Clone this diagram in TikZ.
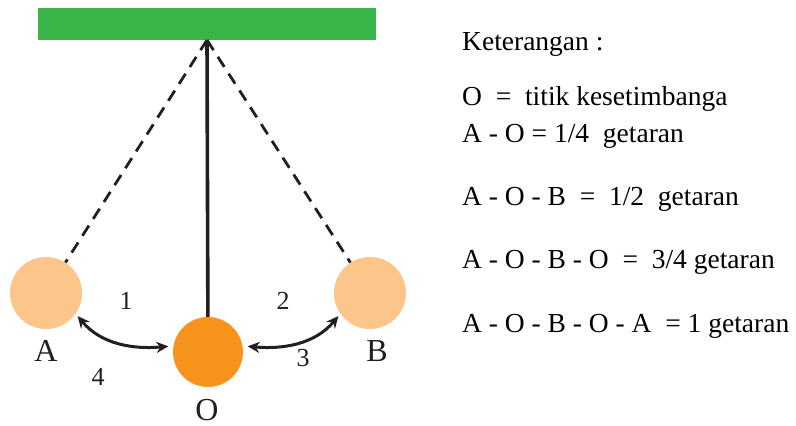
\documentclass[tikz,border=0pt]{standalone}
\usepackage{fontspec}
\setmainfont{Liberation Serif}
\usetikzlibrary{arrows.meta}
\definecolor{bargreen}{HTML}{39B54A}
\definecolor{lightball}{HTML}{FCC68B}
\definecolor{darkball}{HTML}{F7941E}
\definecolor{ink}{HTML}{231F20}
\tikzset{
  ball/.style={circle, inner sep=0pt, minimum size=72pt},
  cord/.style={draw=ink, line width=2.8pt, dash pattern=on 12pt off 8pt},
  swing/.style={draw=ink, line width=3pt, {Stealth[length=12pt,width=11pt]}-{Stealth[length=12pt,width=11pt]}},
  biglabel/.style={font=\fontsize{32}{36}\selectfont, text=ink, inner sep=0pt},
  numlabel/.style={font=\fontsize{26}{30}\selectfont, text=ink, inner sep=0pt},
  keytext/.style={font=\fontsize{27.5}{32}\selectfont, text=black, inner sep=0pt, anchor=base west}
}
\begin{document}
\begin{tikzpicture}[x=1pt,y=-1pt]
\useasboundingbox (0,0) rectangle (796,426);
% ceiling bar
\node[fill=bargreen, minimum width=338pt, minimum height=32pt, inner sep=0pt, anchor=north west] (bar) at (38,8) {};
\coordinate (pivot) at (207,40);
% balls
\node[ball, fill=lightball] (A) at (46,293) {};
\node[ball, fill=lightball] (B) at (370,293) {};
\node[ball, fill=darkball, minimum size=70pt] (O) at (208,352) {};
% cords
\draw[cord] (pivot) -- (A);
\draw[cord] (pivot) -- (B);
\draw[draw=ink, line width=3.6pt] (pivot) -- (O);
% swing arrows
\draw[swing, shorten <=3pt, shorten >=5pt] (A.-35) to[out=-50, in=185] (O.170);
\draw[swing, shorten <=5pt, shorten >=3pt] (O.10) to[out=-5, in=230] (B.215);
% labels
\node[biglabel] (lA) at (46,351) {A};
\node[biglabel] (lB) at (377,351) {B};
\node[biglabel] (lO) at (207,410) {O};
\node[numlabel] (n1) at (126,301) {1};
\node[numlabel] (n2) at (283,301) {2};
\node[numlabel] (n3) at (303,358) {3};
\node[numlabel] (n4) at (98,377) {4};
% key
\node[keytext] (k0) at (462,50) {Keterangan :};
\node[keytext] (k1) at (462,105) {O \ = \ titik kesetimbanga};
\node[keytext] (k2) at (462,142) {A - O = 1/4 \ getaran};
\node[keytext] (k3) at (462,205) {A - O - B \ = \ 1/2 \ getaran};
\node[keytext] (k4) at (462,268) {A - O - B - O \ = \ 3/4 getaran};
\node[keytext] (k5) at (462,332) {A - O - B - O - A \ = 1 getaran};
\end{tikzpicture}
\end{document}
